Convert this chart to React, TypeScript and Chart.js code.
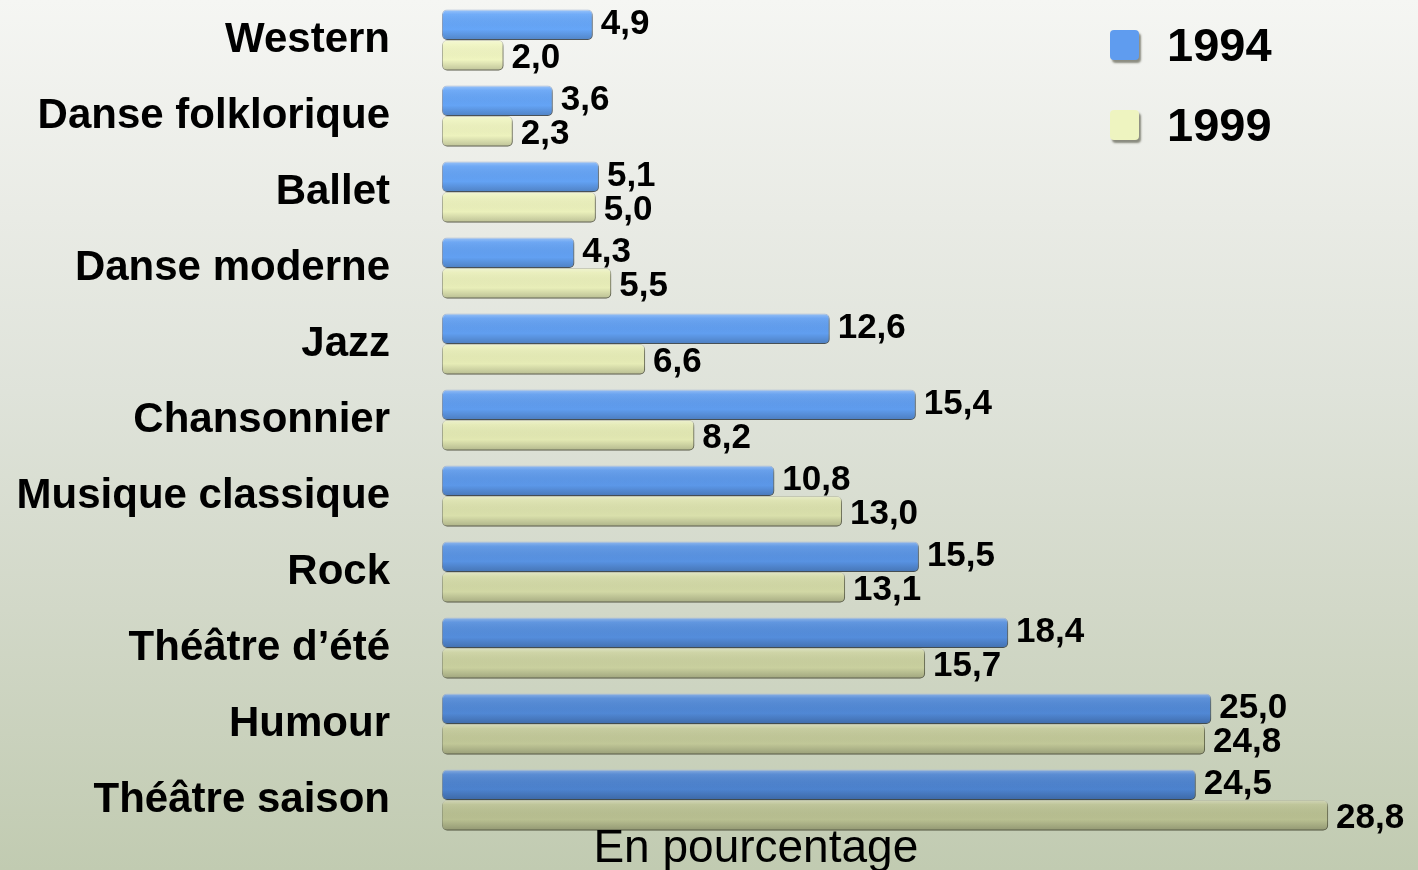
import React, { useEffect, useRef } from "react";
import { Chart, registerables } from "chart.js";

Chart.register(...registerables);

const categories = [
  "Western",
  "Danse folklorique",
  "Ballet",
  "Danse moderne",
  "Jazz",
  "Chansonnier",
  "Musique classique",
  "Rock",
  "Théâtre d’été",
  "Humour",
  "Théâtre saison",
];
const values1994 = [4.9, 3.6, 5.1, 4.3, 12.6, 15.4, 10.8, 15.5, 18.4, 25.0, 24.5];
const values1999 = [2.0, 2.3, 5.0, 5.5, 6.6, 8.2, 13.0, 13.1, 15.7, 24.8, 28.8];
const seriesLabels = ["1994", "1999"];
const axisTitle = "En pourcentage";

const FONT = "'Liberation Sans', Arial, Helvetica, sans-serif";

function fmt(v: number) {
  return v.toFixed(1).replace(".", ",");
}

function makeGradient(stops: [number, string][]) {
  return (ctx: any) => {
    const chart = ctx.chart;
    const area = chart.chartArea;
    if (!area) return stops[0][1];
    const g = chart.ctx.createLinearGradient(0, area.top, 0, area.bottom);
    stops.forEach(([p, c]) => g.addColorStop(p, c));
    return g;
  };
}

const blueStops: [number, string][] = [
  [0, "#66a6f8"],
  [0.5, "#5f9cee"],
  [1, "#4a7fca"],
];
const yellowStops: [number, string][] = [
  [0, "#f1f6c2"],
  [0.5, "#e4eab4"],
  [1, "#b6bd8f"],
];

const shadowPlugin = {
  id: "barShadow",
  beforeDatasetsDraw(chart: any) {
    const c = chart.ctx;
    c.save();
    c.shadowColor = "rgba(40,40,20,0.5)";
    c.shadowBlur = 3;
    c.shadowOffsetX = 2;
    c.shadowOffsetY = 3;
  },
  afterDatasetsDraw(chart: any) {
    chart.ctx.restore();
  },
};

const labelPlugin = {
  id: "valueLabels",
  afterDatasetsDraw(chart: any) {
    const c = chart.ctx;
    c.save();
    // gloss overlay for a soft 3D look
    chart.data.datasets.forEach((_ds: any, di: number) => {
      const meta = chart.getDatasetMeta(di);
      meta.data.forEach((el: any) => {
        const top = el.y - el.height / 2;
        const bottom = el.y + el.height / 2;
        const left = el.base;
        const w = el.x - el.base;
        const g = c.createLinearGradient(0, top, 0, bottom);
        g.addColorStop(0, "rgba(255,255,255,0.35)");
        g.addColorStop(0.15, "rgba(255,255,255,0.08)");
        g.addColorStop(0.65, "rgba(0,0,0,0)");
        g.addColorStop(1, "rgba(0,0,0,0.2)");
        c.fillStyle = g;
        c.beginPath();
        (c as any).roundRect(left, top, w, bottom - top, 5);
        c.fill();
      });
    });
    c.fillStyle = "#000";
    c.font = `bold 35px ${FONT}`;
    c.textAlign = "left";
    c.textBaseline = "middle";
    chart.data.datasets.forEach((ds: any, di: number) => {
      const meta = chart.getDatasetMeta(di);
      meta.data.forEach((el: any, i: number) => {
        const v = ds.data[i];
        c.fillText(fmt(v), el.x + 8, el.y + (di === 1 ? 3 : 0));
      });
    });
    c.restore();
  },
};

const extrasPlugin = {
  id: "extras",
  afterDraw(chart: any) {
    const c = chart.ctx;
    const xs = chart.scales.x;
    c.save();
    // axis title
    c.fillStyle = "#000";
    c.font = `46px ${FONT}`;
    c.textAlign = "center";
    c.textBaseline = "alphabetic";
    c.fillText(axisTitle, xs.getPixelForValue(10.2), 862);
    // legend
    const items = [
      { label: seriesLabels[0], fill: "#5f9cef" },
      { label: seriesLabels[1], fill: "#eef4c0" },
    ];
    items.forEach((it, i) => {
      const cy = 46 + i * 80;
      c.save();
      c.shadowColor = "rgba(40,40,20,0.5)";
      c.shadowBlur = 2;
      c.shadowOffsetX = 2;
      c.shadowOffsetY = 3;
      c.fillStyle = it.fill;
      c.beginPath();
      (c as any).roundRect(1110, cy - 16, 29, 30, 4);
      c.fill();
      c.restore();
      c.fillStyle = "#000";
      c.font = `bold 47px ${FONT}`;
      c.textAlign = "left";
      c.textBaseline = "middle";
      c.fillText(it.label, 1167, cy + 2);
    });
    c.restore();
  },
};

export default function App() {
  const ref = useRef<HTMLCanvasElement>(null);

  useEffect(() => {
    document.body.style.margin = "0";
    const canvas = ref.current;
    if (!canvas) return;
    const chart = new Chart(canvas, {
      type: "bar",
      data: {
        labels: categories,
        datasets: [
          {
            label: seriesLabels[0],
            data: values1994,
            backgroundColor: makeGradient(blueStops),
            borderColor: "rgba(40,80,150,0.5)",
            borderWidth: 1,
            borderRadius: 5,
            borderSkipped: false,
            categoryPercentage: 0.8,
            barPercentage: 1.0,
          },
          {
            label: seriesLabels[1],
            data: values1999,
            backgroundColor: makeGradient(yellowStops),
            borderColor: "rgba(120,125,80,0.5)",
            borderWidth: 1,
            borderRadius: 5,
            borderSkipped: false,
            categoryPercentage: 0.8,
            barPercentage: 1.0,
          },
        ],
      },
      options: {
        indexAxis: "y",
        animation: false,
        responsive: false,
        maintainAspectRatio: false,
        layout: { padding: { left: 12, right: 53, top: 2, bottom: 32 } },
        plugins: {
          legend: { display: false },
          tooltip: { enabled: false },
          title: { display: false },
        },
        scales: {
          x: {
            display: false,
            min: 0,
            max: 30,
          },
          y: {
            grid: { display: false, drawTicks: false },
            border: { display: false },
            ticks: {
              padding: 52,
              color: "#000",
              font: { family: FONT, size: 42, weight: "bold" },
              autoSkip: false,
            },
            afterFit(scale: any) {
              scale.width = 430;
              scale.paddingTop = 0;
              scale.paddingBottom = 0;
            },
          },
        },
      },
      plugins: [shadowPlugin, labelPlugin, extrasPlugin],
    } as any);
    return () => chart.destroy();
  }, []);

  return (
    <div
      style={{
        position: "fixed",
        left: 0,
        top: 0,
        width: 1418,
        height: 870,
        background:
          "linear-gradient(to bottom, #f5f6f3 0%, #e9ebe5 25%, #dfe3da 45%, #d2d8c8 70%, #c1cbb1 100%)",
        overflow: "hidden",
      }}
    >
      <canvas ref={ref} width={1418} height={870} style={{ display: "block" }} />
    </div>
  );
}
